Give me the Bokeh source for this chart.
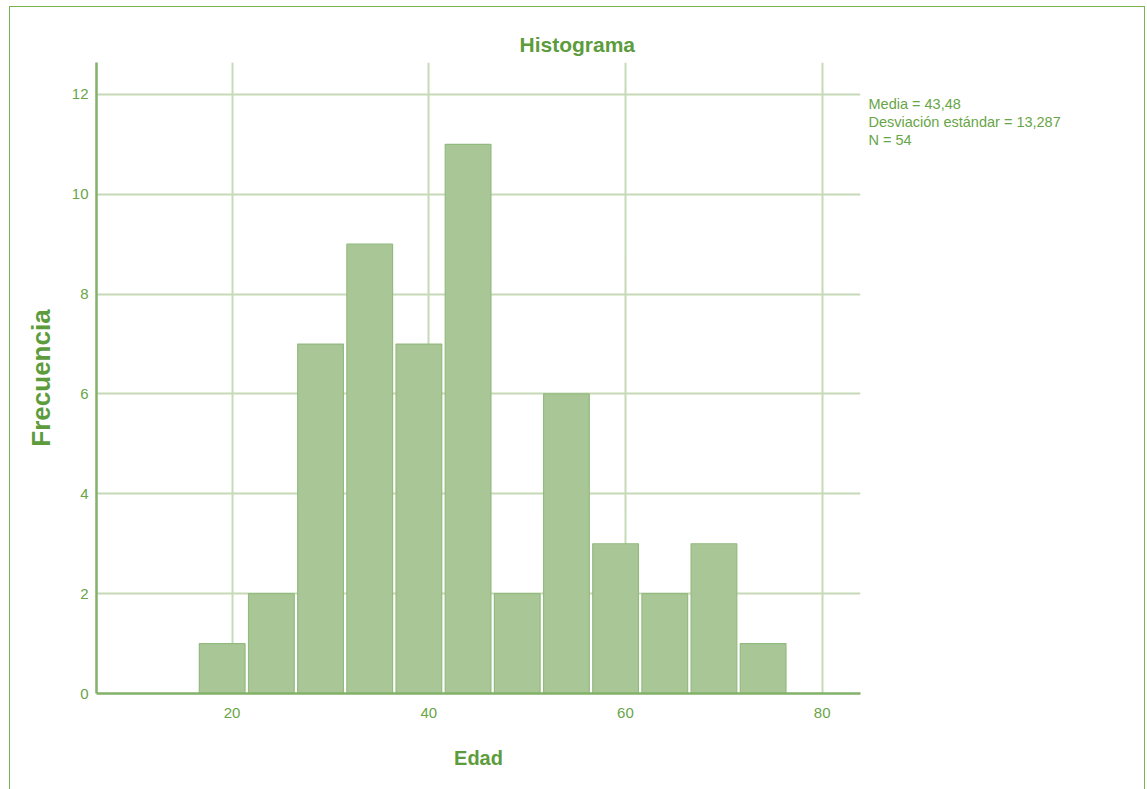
from bokeh.plotting import figure
from bokeh.models import Range1d, FixedTicker, Title
from bokeh.layouts import row
from bokeh.core.properties import value
from bokeh.embed import file_html
from bokeh.resources import INLINE

# ---- data ----
bin_centers = [19, 24, 29, 34, 39, 44, 49, 54, 59, 64, 69, 74]
counts = [1, 2, 7, 9, 7, 11, 2, 6, 3, 2, 3, 1]
bin_width = 5
x_ticks = [20, 40, 60, 80]
y_ticks = [0, 2, 4, 6, 8, 10, 12]
stats_lines = ["Media = 43,48", "Desviación estándar = 13,287", "N = 54"]
stats_y = [11.80, 11.44, 11.08]
title_text = "Histograma"
x_label = "Edad"
y_label = "Frecuencia"

GREEN_TXT = "#5d9c3d"
GREEN_TICK = "#68a548"
AXIS_C = "#82b168"
GRID_C = "#c7dab8"
BAR_FILL = "#a9c697"
BAR_LINE = "#93ba7f"
FRAME_C = "#7ab44e"

H = 782
TOP = 55
BOTTOM = 96
y_range = Range1d(0, 12.64)

p = figure(width=852, height=H, output_backend="svg", toolbar_location=None,
           x_range=Range1d(6.22, 83.9), y_range=y_range,
           min_border_left=86, min_border_right=2, min_border_top=TOP,
           min_border_bottom=BOTTOM)
p.outline_line_color = None
p.background_fill_color = "white"
p.border_fill_color = "white"

p.vbar(x=bin_centers, top=counts, width=bin_width * 0.93, bottom=0,
       fill_color=BAR_FILL, line_color=BAR_LINE, line_width=1.2)

# grids
p.xgrid.ticker = FixedTicker(ticks=x_ticks)
p.ygrid.ticker = FixedTicker(ticks=y_ticks)
for g in (p.xgrid, p.ygrid):
    g.grid_line_color = GRID_C
    g.grid_line_width = 2

# axes
for ax in (p.xaxis, p.yaxis):
    ax.axis_line_color = AXIS_C
    ax.axis_line_width = 2.5
    ax.major_tick_line_color = None
    ax.minor_tick_line_color = None
    ax.major_tick_out = 0
    ax.major_tick_in = 0
    ax.major_label_text_color = GREEN_TICK
    ax.major_label_text_font = "Liberation Sans"
    ax.major_label_text_font_size = "15px"
    ax.axis_label_text_color = GREEN_TXT
    ax.axis_label_text_font = "Liberation Sans"
    ax.axis_label_text_font_style = "bold"
p.xaxis.ticker = FixedTicker(ticks=x_ticks)
p.yaxis.ticker = FixedTicker(ticks=y_ticks)
p.xaxis.axis_label = x_label
p.yaxis.axis_label = y_label
p.xaxis.axis_label_text_font_size = "20px"
p.yaxis.axis_label_text_font_size = "26px"
p.xaxis.major_label_standoff = 14
p.yaxis.major_label_standoff = 8
p.xaxis.axis_label_standoff = 26
p.yaxis.axis_label_standoff = 13

# title
p.add_layout(Title(text=title_text, align="left", offset=423, standoff=14,
                   text_color=GREEN_TXT, text_font="Liberation Sans",
                   text_font_style="bold", text_font_size="21px"), "above")

# side panel with the statistics text
p2 = figure(width=282, height=H, output_backend="svg", toolbar_location=None,
            x_range=Range1d(0, 282), y_range=y_range,
            x_axis_location=None, y_axis_location=None,
            min_border_left=0, min_border_right=0, min_border_top=TOP,
            min_border_bottom=BOTTOM)
p2.outline_line_color = None
p2.grid.visible = False
p2.background_fill_color = "white"
p2.border_fill_color = "white"
p2.text(x=[6] * len(stats_lines), y=stats_y, text=stats_lines,
        text_align="left", text_baseline="middle", text_color=GREEN_TICK,
        text_font=value("Liberation Sans"), text_font_size="14.5px")

layout = row(p, p2, margin=(6, 0, 0, 9),
             styles={"border": f"1px solid {FRAME_C}"})

open("out.html", "w").write(file_html(layout, INLINE))
